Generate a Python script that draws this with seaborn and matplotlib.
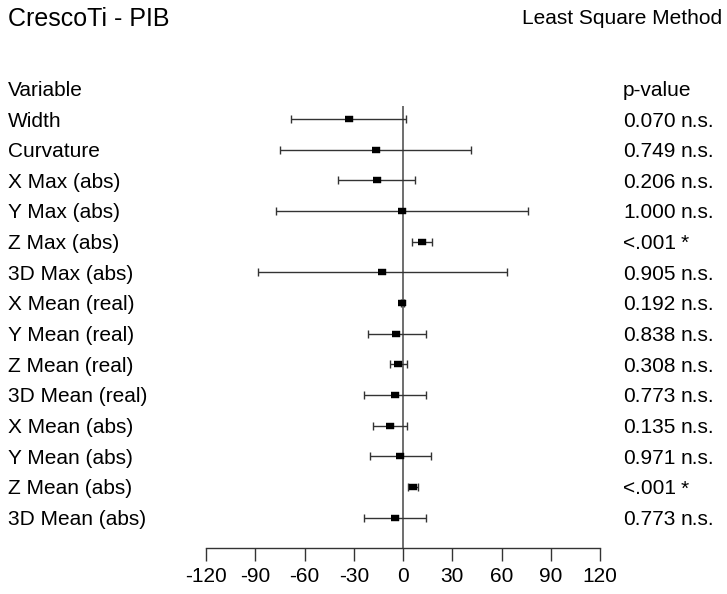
import matplotlib
matplotlib.use("Agg")
import matplotlib.pyplot as plt
import matplotlib.transforms as mtransforms
import seaborn as sns
import pandas as pd
import numpy as np

variables = ["Width", "Curvature", "X Max (abs)", "Y Max (abs)", "Z Max (abs)",
             "3D Max (abs)", "X Mean (real)", "Y Mean (real)", "Z Mean (real)",
             "3D Mean (real)", "X Mean (abs)", "Y Mean (abs)", "Z Mean (abs)",
             "3D Mean (abs)"]
estimate = [-33.0, -16.6, -16.0, -0.8, 11.4, -12.8, -0.6, -4.0, -2.8, -5.1,
            -7.8, -1.6, 6.3, -5.1]
ci_low = [-68.4, -74.9, -39.6, -77.3, 5.3, -88.5, -1.4, -21.5, -8.1, -23.9,
          -18.5, -20.1, 3.2, -23.9]
ci_high = [2.0, 41.4, 7.1, 76.1, 17.7, 63.3, 0.6, 13.8, 2.2, 13.8,
           2.2, 17.3, 9.3, 13.8]
p_values = ["0.070", "0.749", "0.206", "1.000", "<.001", "0.905", "0.192",
            "0.838", "0.308", "0.773", "0.135", "0.971", "<.001", "0.773"]
significance = ["n.s.", "n.s.", "n.s.", "n.s.", "*", "n.s.", "n.s.",
                "n.s.", "n.s.", "n.s.", "n.s.", "n.s.", "*", "n.s."]
x_ticks = [-120, -90, -60, -30, 0, 30, 60, 90, 120]

title_left = "CrescoTi - PIB"
title_right = "Least Square Method"

sns.set_theme(style="white")
plt.rcParams['font.family'] = ['Liberation Sans', 'DejaVu Sans']
plt.rcParams['text.color'] = 'black'
plt.rcParams['xtick.color'] = 'black'
plt.rcParams['axes.labelcolor'] = 'black'

df = pd.DataFrame({"variable": variables, "row": np.arange(len(variables)),
                   "estimate": estimate, "lo": ci_low, "hi": ci_high})

W, H = 727, 594
fig = plt.figure(figsize=(W / 100, H / 100), dpi=100)
left_px, right_px = 206, 600
top_px, bottom_px = 106, 548
ax = fig.add_axes([left_px / W, 1 - bottom_px / H,
                   (right_px - left_px) / W, (bottom_px - top_px) / H])

ax.axvline(0, color="#555555", lw=1.2, zorder=1)
ax.errorbar(df["estimate"], df["row"],
            xerr=[df["estimate"] - df["lo"], df["hi"] - df["estimate"]],
            fmt="none", ecolor="#333333", elinewidth=1.0, capsize=3.2,
            capthick=1.0, zorder=2)
rect = [(-1.5, -1), (1.5, -1), (1.5, 1), (-1.5, 1)]
sns.scatterplot(data=df, x="estimate", y="row", marker=rect, s=30,
                color="black", edgecolor="black", linewidth=0.3, ax=ax,
                zorder=3, legend=False)

ax.set_xlim(-120, 120)
ax.set_ylim(13.99, -0.424)
ax.set_xticks(x_ticks)
ax.set_xticklabels([str(t) for t in x_ticks])
ax.set_yticks([])
ax.set_xlabel("")
ax.set_ylabel("")
for s in ["top", "left", "right"]:
    ax.spines[s].set_visible(False)
ax.spines["bottom"].set_color("#333333")
ax.spines["bottom"].set_linewidth(1.0)
ax.tick_params(axis="x", direction="out", length=9, width=1.0,
               color="#333333", labelsize=15, pad=5, bottom=True,
               labelcolor="black")
ax.set_facecolor("none")

fs = 15
trans = mtransforms.blended_transform_factory(fig.transFigure, ax.transData)
ax.text(8 / W, -1, "Variable", transform=trans, ha="left",
        va="center_baseline", fontsize=fs, clip_on=False)
ax.text(623 / W, -1, "p-value", transform=trans, ha="left",
        va="center_baseline", fontsize=fs, clip_on=False)
for i, (v, p, sg) in enumerate(zip(variables, p_values, significance)):
    ax.text(8 / W, i, v, transform=trans, ha="left", va="center_baseline",
            fontsize=fs, clip_on=False)
    ax.text(623 / W, i, p, transform=trans, ha="left", va="center_baseline",
            fontsize=fs, clip_on=False)
    ax.text(681 / W, i, sg, transform=trans, ha="left", va="center_baseline",
            fontsize=fs, clip_on=False)

fig.text(8 / W, 1 - 26 / H, title_left, ha="left", va="baseline", fontsize=18)
fig.text(722 / W, 1 - 23.5 / H, title_right, ha="right", va="baseline",
         fontsize=15)

fig.savefig("out.png", dpi=100)
